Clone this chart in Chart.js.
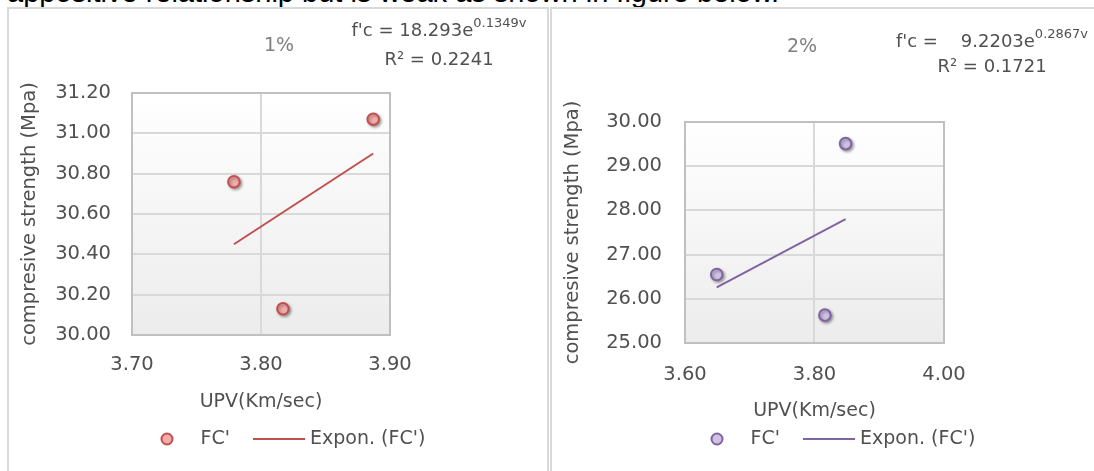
<!DOCTYPE html>
<html>
<head>
<meta charset="utf-8">
<script src="https://cdn.jsdelivr.net/npm/chart.js@4/dist/chart.umd.min.js"></script>
<style>
  html, body { margin: 0; padding: 0; background: #fff; width: 1094px; height: 471px; overflow: hidden; position: relative; }
  #lead { position: absolute; left: 7px; top: -22px; font: 29px/29px "Liberation Sans", Arial, sans-serif; color: #000; white-space: nowrap; }
  .box { position: absolute; top: 7px; height: 480px; border: 2px solid #d9d9d9; background: #fff; z-index: 1; }
  #box1 { left: 7px; width: 538px; }
  #box2 { left: 550px; width: 560px; }
  canvas { display: block; }
</style>
</head>
<body>
<div id="lead">appositive relationship but is weak as shown in figure below.</div>
<div class="box" id="box1"><canvas id="c1" width="538" height="462"></canvas></div>
<div class="box" id="box2"><canvas id="c2" width="542" height="462"></canvas></div>
<script>
// 1% fibre
const upv1 = [3.779, 3.887, 3.817];
const fc1 = [30.76, 31.07, 30.13];
const trendUpv1 = [3.779, 3.887];
const trendFc1 = [30.45, 30.90];
const xRange1 = [3.70, 3.90, 0.10];
const yRange1 = [30.00, 31.20, 0.20];

// 2% fibre
const upv2 = [3.649, 3.816, 3.848];
const fc2 = [26.55, 25.63, 29.51];
const trendUpv2 = [3.649, 3.848];
const trendFc2 = [26.26, 27.80];
const xRange2 = [3.60, 4.00, 0.20];
const yRange2 = [25.00, 30.00, 1.00];

const xTitle = "UPV(Km/sec)";
const yTitle = "compresive strength (Mpa)";
const seriesName = "FC'";
const trendName = "Expon. (FC')";

Chart.defaults.font.family = "'DejaVu Sans', sans-serif";
Chart.defaults.color = "#505050";

const toPts = (xs, ys) => xs.map((x, i) => ({ x: x, y: ys[i] }));

// gradient fill + border of the plot area, like the Excel plot
const plotArea = {
  id: "plotArea",
  beforeDraw(chart) {
    const { ctx, chartArea: a } = chart;
    const g = ctx.createLinearGradient(0, a.top, 0, a.bottom);
    g.addColorStop(0, "#ffffff");
    g.addColorStop(1, "#ececec");
    ctx.save();
    ctx.fillStyle = g;
    ctx.fillRect(a.left, a.top, a.right - a.left, a.bottom - a.top);
    ctx.restore();
  },
  beforeDatasetsDraw(chart) {
    const { ctx, chartArea: a } = chart;
    ctx.save();
    ctx.strokeStyle = "#c0c0c0";
    ctx.lineWidth = 2;
    ctx.strokeRect(a.left, a.top, a.right - a.left, a.bottom - a.top);
    ctx.restore();
  },
  beforeDatasetDraw(chart, args) {
    const ctx = chart.ctx;
    ctx.save();
    if (args.index === 0) {
      ctx.shadowColor = "rgba(0,0,0,0.35)";
      ctx.shadowBlur = 3;
      ctx.shadowOffsetX = 1.5;
      ctx.shadowOffsetY = 1.5;
    }
  },
  afterDatasetDraw(chart) {
    chart.ctx.restore();
  }
};

// title, trendline label and legend
const labels = {
  id: "labels",
  afterDraw(chart, args, o) {
    const ctx = chart.ctx;
    ctx.save();
    ctx.textBaseline = "middle";

    ctx.fillStyle = "#7f7f7f";
    ctx.font = "19px 'DejaVu Sans'";
    ctx.textAlign = "center";
    ctx.fillText(o.title, o.titleX, o.titleY);

    // equation with superscript exponent
    ctx.fillStyle = "#505050";
    ctx.textAlign = "left";
    ctx.font = "18px 'DejaVu Sans'";
    const w1 = ctx.measureText(o.eq).width;
    ctx.font = "13px 'DejaVu Sans'";
    const w2 = ctx.measureText(o.eqSup).width;
    let sx = o.eqX - (w1 + w2) / 2;
    ctx.font = "18px 'DejaVu Sans'";
    ctx.fillText(o.eq, sx, o.eqY);
    ctx.font = "13px 'DejaVu Sans'";
    ctx.fillText(o.eqSup, sx + w1, o.eqY - 7);

    ctx.font = "18px 'DejaVu Sans'";
    ctx.textAlign = "center";
    ctx.fillText(o.r2, o.eqX, o.r2Y);

    // legend
    const ds = chart.data.datasets;
    const x0 = o.legX, y0 = o.legY;
    ctx.beginPath();
    ctx.arc(x0, y0, 5.5, 0, Math.PI * 2);
    ctx.fillStyle = ds[0].backgroundColor;
    ctx.fill();
    ctx.lineWidth = 2;
    ctx.strokeStyle = ds[0].borderColor;
    ctx.stroke();
    ctx.beginPath();
    ctx.moveTo(x0 + 86, y0);
    ctx.lineTo(x0 + 138, y0);
    ctx.strokeStyle = ds[1].borderColor;
    ctx.lineWidth = 2;
    ctx.stroke();
    ctx.fillStyle = "#505050";
    ctx.font = "19px 'DejaVu Sans'";
    ctx.textAlign = "left";
    ctx.fillText(ds[0].label, x0 + 33.5, y0);
    ctx.fillText(ds[1].label, x0 + 143, y0);
    ctx.restore();
  }
};

function makeChart(id, d) {
  return new Chart(document.getElementById(id), {
    type: "scatter",
    data: {
      datasets: [
        {
          label: seriesName,
          data: toPts(d.xs, d.ys),
          pointRadius: 5.8,
          pointBorderWidth: 2,
          backgroundColor: d.fill,
          borderColor: d.color
        },
        {
          label: trendName,
          data: toPts(d.txs, d.tys),
          showLine: true,
          pointRadius: 0,
          borderWidth: 2,
          borderColor: d.color,
          backgroundColor: d.color
        }
      ]
    },
    options: {
      responsive: false,
      animation: false,
      events: [],
      layout: { padding: d.pad },
      plugins: {
        legend: { display: false },
        tooltip: { enabled: false },
        labels: d.text
      },
      scales: {
        x: {
          type: "linear",
          min: d.xr[0], max: d.xr[1],
          ticks: { stepSize: d.xr[2], padding: d.xTickPad, font: { size: 19.5 }, callback: v => v.toFixed(2) },
          grid: { color: "#d9d9d9", lineWidth: 2, drawTicks: false },
          border: { display: false },
          title: { display: true, text: xTitle, padding: 0, font: { size: 19 } },
          afterFit: s => { s.height = d.xH; }
        },
        y: {
          min: d.yr[0], max: d.yr[1],
          ticks: { stepSize: d.yr[2], padding: d.yTickPad, font: { size: 19.5 }, callback: v => v.toFixed(2) },
          grid: { color: "#d9d9d9", lineWidth: 2, drawTicks: false },
          border: { display: false },
          title: { display: true, text: yTitle, padding: 0, font: { size: 19.5 } },
          afterFit: s => { s.width = d.yW; }
        }
      }
    },
    plugins: [plotArea, labels]
  });
}

makeChart("c1", {
  xs: upv1, ys: fc1, txs: trendUpv1, tys: trendFc1, xr: xRange1, yr: yRange1,
  color: "#c0504d", fill: "#f3acab",
  pad: { top: 84, right: 157, bottom: 58, left: 9 },
  xH: 78, yW: 114, xTickPad: 18, yTickPad: 21,
  text: { title: "1%", titleX: 270, titleY: 37,
          eq: "f'c = 18.293e", eqSup: "0.1349v", eqX: 430, eqY: 22, r2: "R² = 0.2241", r2Y: 51,
          legX: 158, legY: 430 }
});

makeChart("c2", {
  xs: upv2, ys: fc2, txs: trendUpv2, tys: trendFc2, xr: xRange2, yr: yRange2,
  color: "#8064a2", fill: "#cfc2e3",
  pad: { top: 113, right: 150, bottom: 49, left: 9 },
  xH: 79, yW: 124, xTickPad: 20, yTickPad: 23,
  text: { title: "2%", titleX: 250, titleY: 38,
          eq: "f'c =    9.2203e", eqSup: "0.2867v", eqX: 440, eqY: 33, r2: "R² = 0.1721", r2Y: 58,
          legX: 165, legY: 430 }
});
</script>
</body>
</html>
